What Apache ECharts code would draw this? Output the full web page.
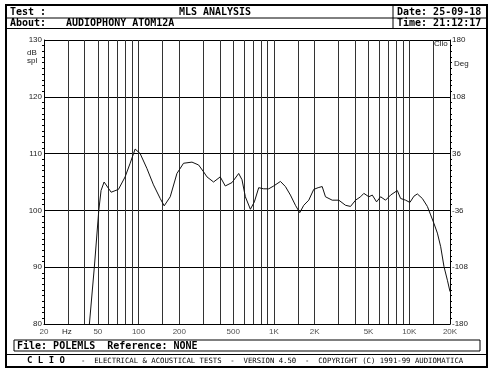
<!DOCTYPE html>
<html>
<head>
<meta charset="utf-8">
<script src="https://cdn.jsdelivr.net/npm/echarts@6/dist/echarts.min.js"></script>
<style>
    html, body {margin: 0; padding: 0; background: #fff;}
    #main {width: 499px; height: 377px;}
</style>
</head>
<body>
<div id="main"></div>
<script>
// 频率响应 (Hz / dB spl)
const freqHz = [43.3, 47.1, 50.8, 52.8, 55.6, 62.7, 71.0, 79.5, 86.6, 94.3, 102.7, 115.1, 128.8, 144.4, 154.6,
    171.3, 192, 214.8, 248, 277.5, 302, 320, 358, 401, 437, 490, 549, 581, 615, 670, 717, 772, 840, 915, 996,
    1117, 1216, 1324, 1442, 1551, 1661, 1809, 1969, 2122, 2273, 2404, 2696, 3016, 3381, 3681, 4009, 4366, 4618,
    5030, 5331, 5734, 6138, 6684, 7278, 8162, 8630, 9398, 10112, 10826, 11474, 12494, 13608, 14392, 15225,
    16134, 17072, 18056, 19136, 20000];
const splDb = [80, 90, 100, 103.5, 105.0, 103.2, 103.7, 105.9, 108.3, 110.8, 110.0, 107.4, 104.5, 102.1, 100.8,
    102.4, 106.5, 108.3, 108.5, 108.0, 106.8, 105.9, 105.0, 105.9, 104.3, 104.9, 106.5, 105.4, 102.4, 100.2, 101.5, 104.0, 103.8, 103.8, 104.3,
    105.1, 104.2, 102.7, 100.9, 99.6, 100.9, 101.8, 103.7, 104.0, 104.2, 102.4, 101.8, 101.8, 100.9, 100.7, 101.8, 102.4, 103.0,
    102.4, 102.7, 101.5, 102.4, 101.8, 102.7, 103.5, 102.1, 101.8, 101.4, 102.5, 102.9, 102.1, 100.7, 99.2, 97.7,
    96.0, 93.6, 90.1, 87.7, 85.7];

// 竖向网格线
const gridFreqs = [30, 40, 50, 60, 70, 80, 90, 100, 150, 200, 300, 400, 500, 600, 700, 800, 900,
    1000, 1500, 2000, 3000, 4000, 5000, 6000, 7000, 8000, 9000, 10000, 15000];
// x 轴刻度
const xTickFreqs = [20, 50, 100, 200, 500, 1000, 2000, 5000, 10000, 20000];
const xTickLabels = ['20', '50', '100', '200', '500', '1K', '2K', '5K', '10K', '20K'];
// 右侧相位刻度
const degLabels = ['-180', '-108', '-36', '36', '108', '180'];

const mono = '"DejaVu Sans Mono", monospace';
const small = '"Liberation Sans", Arial, sans-serif';

let chart = echarts.init(document.getElementById('main'), null, {renderer: 'canvas'});

let option = {
    animation: false,
    backgroundColor: '#fff',
    grid: {left: 44, top: 40, right: 49, bottom: 53, show: false},
    xAxis: {
        type: 'log',
        logBase: 10,
        min: 20,
        max: 20000,
        axisLine: {show: true, onZero: false, lineStyle: {color: '#000', width: 1}},
        axisTick: {show: false},
        axisLabel: {show: false},
        splitLine: {show: false}
    },
    yAxis: [
        {
            type: 'value',
            min: 80,
            max: 130,
            interval: 10,
            position: 'left',
            axisLine: {show: true, lineStyle: {color: '#000', width: 1}},
            axisTick: {show: false},
            minorTick: {show: true, splitNumber: 10, length: 2, lineStyle: {color: '#000'}},
            axisLabel: {fontSize: 8, color: '#222', margin: 2, fontFamily: small},
            splitLine: {show: true, lineStyle: {color: '#000', width: 1}}
        },
        {
            type: 'value',
            min: 0,
            max: 5,
            interval: 1,
            position: 'right',
            axisLine: {show: true, lineStyle: {color: '#000', width: 1}},
            axisTick: {show: false},
            minorTick: {show: true, splitNumber: 10, length: 2, lineStyle: {color: '#000'}},
            axisLabel: {
                fontSize: 8, color: '#222', margin: 2, fontFamily: small,
                formatter: (v) => degLabels[Math.round(v)]
            },
            splitLine: {show: false}
        }
    ],
    series: [
        {
            // 刻度文字 + 网格线
            type: 'scatter',
            symbolSize: 1,
            itemStyle: {color: 'transparent'},
            silent: true,
            z: 1,
            data: xTickFreqs.map((f) => [f, 80]),
            label: {
                show: true,
                position: 'bottom',
                distance: 3,
                fontSize: 8,
                color: '#222',
                fontFamily: small,
                formatter: (p) => xTickLabels[p.dataIndex]
            },
            markLine: {
                silent: true,
                symbol: 'none',
                label: {show: false},
                lineStyle: {type: 'solid', color: '#333', width: 1},
                data: gridFreqs.map((f) => ({xAxis: f}))
            }
        },
        {
            type: 'line',
            data: freqHz.map((f, i) => [f, splDb[i]]),
            showSymbol: false,
            smooth: false,
            z: 5,
            lineStyle: {color: '#111', width: 1}
        }
    ],
    graphic: [
        // 外框
        {type: 'rect', shape: {x: 6, y: 5, width: 481, height: 362}, style: {fill: 'none', stroke: '#000', lineWidth: 2}},
        {type: 'line', shape: {x1: 6, y1: 18, x2: 487, y2: 18}, style: {stroke: '#000', lineWidth: 1}},
        {type: 'line', shape: {x1: 6, y1: 28.5, x2: 487, y2: 28.5}, style: {stroke: '#000', lineWidth: 1}},
        {type: 'line', shape: {x1: 393, y1: 5, x2: 393, y2: 28.5}, style: {stroke: '#000', lineWidth: 1}},
        {type: 'text', x: 10, y: 12, style: {text: 'Test :', font: 'bold 10px ' + mono, fill: '#000', verticalAlign: 'middle'}},
        {type: 'text', x: 215, y: 12, style: {text: 'MLS ANALYSIS', font: 'bold 10px ' + mono, fill: '#000', align: 'center', verticalAlign: 'middle'}},
        {type: 'text', x: 397, y: 12, style: {text: 'Date: 25-09-18', font: 'bold 10px ' + mono, fill: '#000', verticalAlign: 'middle'}},
        {type: 'text', x: 10, y: 23.5, style: {text: 'About:', font: 'bold 10px ' + mono, fill: '#000', verticalAlign: 'middle'}},
        {type: 'text', x: 66, y: 23.5, style: {text: 'AUDIOPHONY ATOM12A', font: 'bold 10px ' + mono, fill: '#000', verticalAlign: 'middle'}},
        {type: 'text', x: 397, y: 23.5, style: {text: 'Time: 21:12:17', font: 'bold 10px ' + mono, fill: '#000', verticalAlign: 'middle'}},
        // 轴单位
        {type: 'text', x: 27, y: 53, style: {text: 'dB', font: '8px ' + small, fill: '#222', verticalAlign: 'middle'}},
        {type: 'text', x: 27, y: 61, style: {text: 'spl', font: '8px ' + small, fill: '#222', verticalAlign: 'middle'}},
        {type: 'text', x: 454, y: 64, style: {text: 'Deg', font: '8px ' + small, fill: '#222', verticalAlign: 'middle'}},
        {type: 'text', x: 434, y: 44, style: {text: 'Clio', font: '8px ' + small, fill: '#222', verticalAlign: 'middle'}},
        {type: 'text', x: 62, y: 332, style: {text: 'Hz', font: '8px ' + small, fill: '#222', verticalAlign: 'middle'}},
        // 底部
        {type: 'rect', shape: {x: 14, y: 340, width: 466, height: 11}, style: {fill: 'none', stroke: '#000', lineWidth: 1}},
        {type: 'text', x: 17, y: 346, style: {text: 'File: POLEMLS  Reference: NONE', font: 'bold 10px ' + mono, fill: '#000', verticalAlign: 'middle'}},
        {type: 'line', shape: {x1: 6, y1: 354.5, x2: 487, y2: 354.5}, style: {stroke: '#000', lineWidth: 1}},
        {type: 'text', x: 27, y: 361, style: {text: 'C L I O', font: 'bold 9px ' + mono, fill: '#000', verticalAlign: 'middle'}},
        {type: 'text', x: 81, y: 361, style: {text: '-  ELECTRICAL & ACOUSTICAL TESTS  -  VERSION 4.50  -  COPYRIGHT (C) 1991-99 AUDIOMATICA', font: '7.3px ' + mono, fill: '#000', verticalAlign: 'middle'}}
    ]
};

chart.setOption(option);
</script>
</body>
</html>
